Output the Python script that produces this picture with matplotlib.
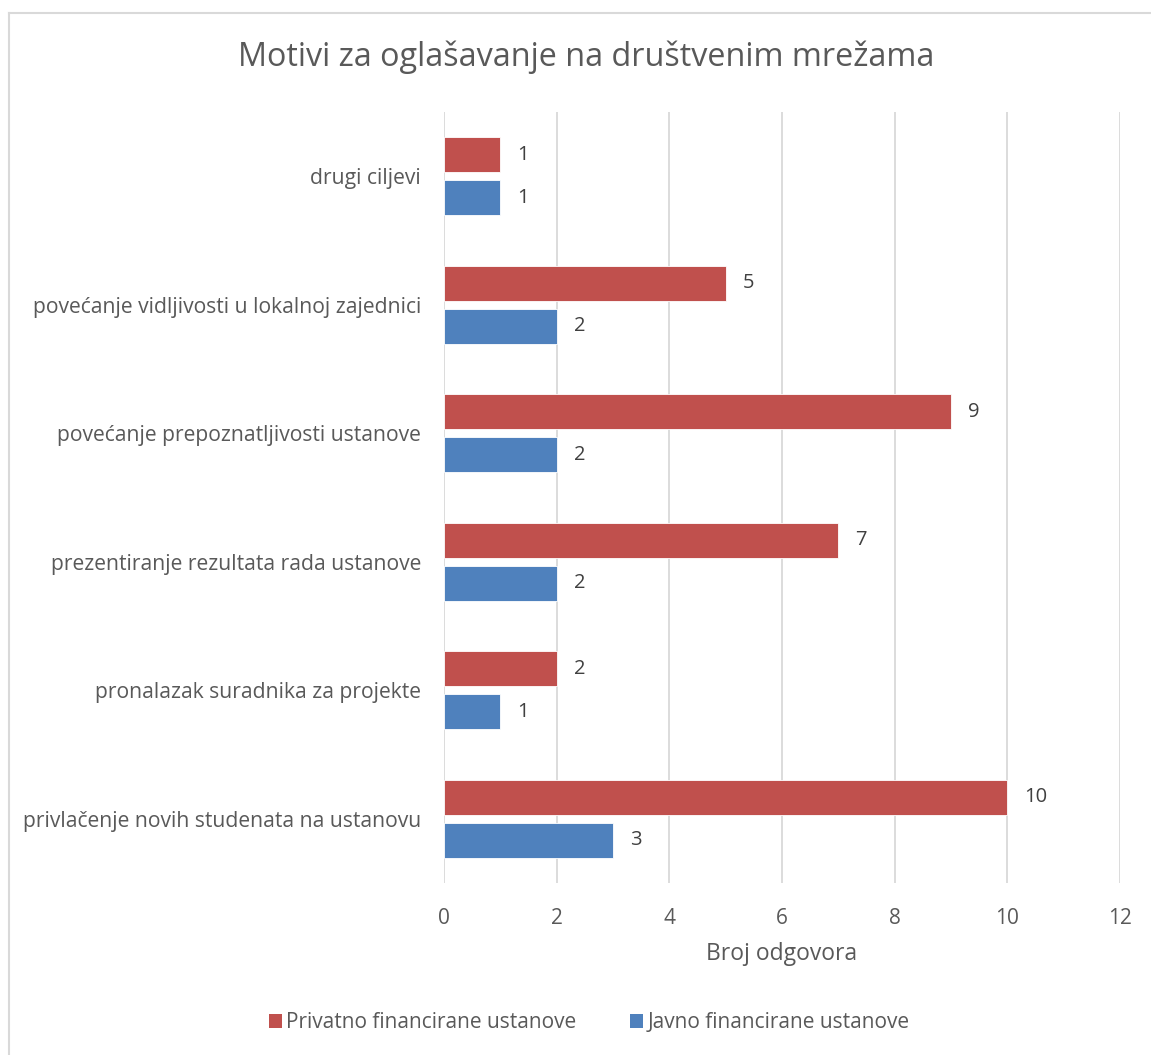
import matplotlib
matplotlib.use("Agg")
import matplotlib.pyplot as plt
from matplotlib.lines import Line2D
from matplotlib.patches import Patch
import numpy as np

plt.rcParams['font.family'] = ['Open Sans', 'DejaVu Sans']

categories = [
    "drugi ciljevi",
    "povećanje vidljivosti u lokalnoj zajednici",
    "povećanje prepoznatljivosti ustanove",
    "prezentiranje rezultata rada ustanove",
    "pronalazak suradnika za projekte",
    "privlačenje novih studenata na ustanovu",
]
privatno = [1, 5, 9, 7, 2, 10]
javno = [1, 2, 2, 2, 1, 3]
series_names = ["Privatno financirane ustanove", "Javno financirane ustanove"]
xticks = [0, 2, 4, 6, 8, 10, 12]

red = "#C0504D"
blue = "#4F81BD"
txt = "#595959"
grid = "#D9D9D9"

W, H = 1151, 1055
fig = plt.figure(figsize=(W / 100, H / 100), dpi=100)
ax = fig.add_axes([444 / W, 1 - 883 / H, (1120 - 444) / W, (883 - 112) / H])

y = np.arange(len(categories))
h = 0.272
off = 0.166
ax.barh(y - off, privatno, height=h, color=red, edgecolor="white", linewidth=0.6, zorder=3)
ax.barh(y + off, javno, height=h, color=blue, edgecolor="white", linewidth=0.6, zorder=3)

for yi, v in zip(y - off, privatno):
    ax.text(v + 0.3, yi, str(v), va="center", ha="left", fontsize=14.5, color="#404040")
for yi, v in zip(y + off, javno):
    ax.text(v + 0.3, yi, str(v), va="center", ha="left", fontsize=14.5, color="#404040")

ax.set_ylim(len(categories) - 0.5, -0.5)
ax.set_xlim(0, 12)
ax.set_xticks(xticks)
ax.set_xticklabels([str(t) for t in xticks])
ax.set_yticks(y)
ax.set_yticklabels(categories)
ax.tick_params(axis="y", length=0, pad=16.5, labelsize=15.2, labelcolor=txt)
ax.tick_params(axis="x", length=0, pad=18, labelsize=15, labelcolor=txt)
ax.grid(axis="x", color=grid, linewidth=1.3, zorder=0)
for s in ax.spines.values():
    s.set_visible(False)
ax.set_xlabel("Broj odgovora", fontsize=16.5, color=txt, labelpad=9)

fig.text(586 / W, 1 - 57 / H, "Motivi za oglašavanje na društvenim mrežama",
         ha="center", va="center", fontsize=23.3, color=txt)

handles = [Patch(facecolor=red), Patch(facecolor=blue)]
fig.legend(handles, series_names, loc="center", bbox_to_anchor=(589 / W, 1 - 1023 / H),
           ncol=2, frameon=False, fontsize=15, labelcolor=txt,
           handlelength=0.65, handleheight=0.65, handletextpad=0.2, columnspacing=2.55)

# chart border (top and left visible)
fig.add_artist(Line2D([8.5 / W, 1.0], [1 - 12.5 / H, 1 - 12.5 / H], transform=fig.transFigure,
                      color="#D9D9D9", linewidth=1.5))
fig.add_artist(Line2D([8.5 / W, 8.5 / W], [0, 1 - 12.5 / H], transform=fig.transFigure,
                      color="#D9D9D9", linewidth=1.5))

fig.savefig("out.png", dpi=100, facecolor="white")
